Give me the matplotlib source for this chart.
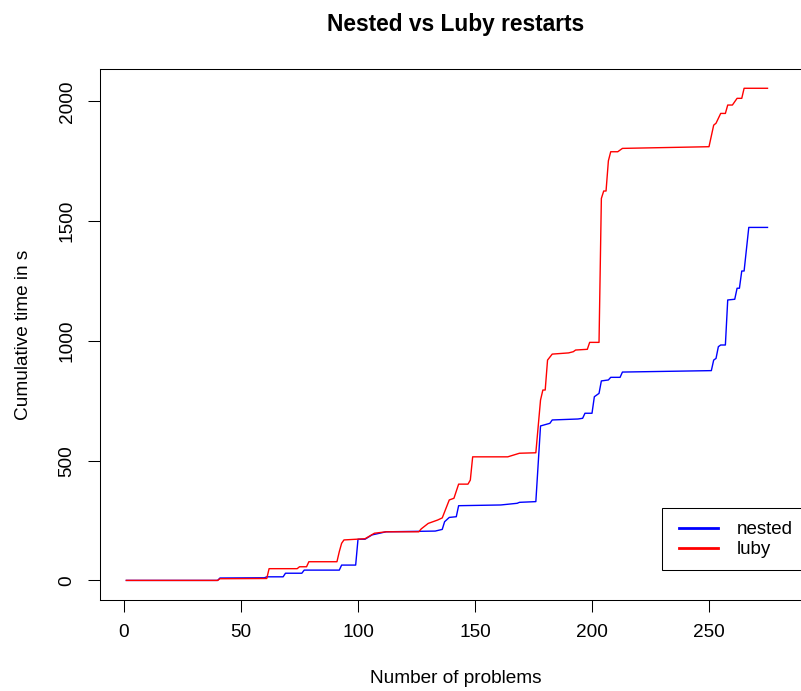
import matplotlib
matplotlib.use("Agg")
import matplotlib.pyplot as plt
from matplotlib.lines import Line2D
from matplotlib.patches import Rectangle

plt.rcParams['font.family'] = ['Liberation Sans', 'DejaVu Sans']

# Breakpoints of the cumulative-time curves (problem index, cumulative seconds)
nested_x = [1, 40, 41, 60, 61, 68, 69, 76, 77, 92, 93, 99, 100, 103, 106, 112, 133,
            136, 137, 139, 142, 143, 161, 168, 169, 176, 178, 182, 183, 194, 196,
            197, 200, 201, 203, 204, 207, 208, 212, 213, 251, 252, 253, 254, 255,
            257, 258, 261, 262, 263, 264, 265, 267, 275]
nested_y = [0, 0, 10, 11, 15, 15, 30, 30, 43, 43, 64, 64, 172, 172, 190, 203, 206,
            213, 245, 263, 266, 312, 315, 322, 326, 329, 645, 656, 670, 674, 677,
            698, 698, 767, 781, 833, 837, 848, 848, 870, 876, 920, 927, 976, 983,
            983, 1171, 1174, 1220, 1220, 1292, 1292, 1474, 1474]

luby_x = [1, 40, 41, 61, 62, 74, 75, 78, 79, 91, 92, 93, 94, 103, 107, 112, 126, 127,
          130, 134, 136, 139, 141, 143, 147, 148, 149, 164, 169, 176, 178, 179, 180,
          181, 183, 190, 192, 193, 198, 199, 203, 204, 205, 206, 207, 208, 211, 213,
          250, 252, 253, 255, 257, 258, 260, 262, 264, 265, 275]
luby_y = [0, 0, 7, 8, 49, 49, 57, 57, 78, 78, 120, 155, 169, 174, 197, 203, 203, 215,
          238, 252, 261, 336, 343, 402, 402, 419, 516, 516, 531, 533, 753, 795, 795,
          920, 945, 950, 955, 962, 965, 994, 994, 1595, 1626, 1626, 1752, 1790, 1790,
          1804, 1811, 1901, 1909, 1950, 1950, 1985, 1985, 2013, 2013, 2055, 2055]

series_labels = ["nested", "luby"]
series_colors = ["#0000FF", "#FF0000"]
x_ticks = [0, 50, 100, 150, 200, 250]
y_ticks = [0, 500, 1000, 1500, 2000]

W, H = 801, 691
fig = plt.figure(figsize=(W / 100, H / 100), dpi=100)
fig.patch.set_facecolor("white")

left_px, right_px, top_px, bottom_px = 100, 812, 69, 600
ax = fig.add_axes([left_px / W, 1 - bottom_px / H,
                   (right_px - left_px) / W, (bottom_px - top_px) / H])

ax.plot(nested_x, nested_y, color=series_colors[0], lw=1.0)
ax.plot(luby_x, luby_y, color=series_colors[1], lw=1.0)

ax.set_xlim(-10.26, (right_px - 124) / 2.34)
ax.set_ylim(-81.8, 2135.5)
ax.set_xticks(x_ticks)
ax.set_yticks(y_ticks)
ax.set_yticklabels([str(v) for v in y_ticks], rotation=90, va="center")
ax.tick_params(axis="both", direction="out", length=8.5, width=0.75,
               labelsize=13.7, pad=9, color="black")
for s in ax.spines.values():
    s.set_linewidth(0.75)
    s.set_color("black")

ax.set_title("Nested vs Luby restarts", fontsize=16.4, fontweight="bold", pad=27.5)
ax.set_xlabel("Number of problems", fontsize=13.7, labelpad=21)
ax.set_ylabel("Cumulative time in s", fontsize=13.7, labelpad=19.5)

# legend frame (right side runs to the image edge)
fig.add_artist(Rectangle((662 / W, 1 - 570 / H), (801.5 - 662) / W, 62 / H,
                         transform=fig.transFigure, facecolor="white",
                         edgecolor="black", linewidth=0.75, zorder=5))
handles = [Line2D([], [], color=c, lw=2) for c in series_colors]
leg = fig.legend(handles, series_labels, loc="upper left",
                 bbox_to_anchor=(679 / W, 1 - 521 / H), fontsize=13.5,
                 frameon=False, handlelength=2.08, handletextpad=1.0,
                 labelspacing=0.16, borderpad=0, borderaxespad=0)
leg.set_zorder(6)

fig.savefig("out.png", dpi=100)
